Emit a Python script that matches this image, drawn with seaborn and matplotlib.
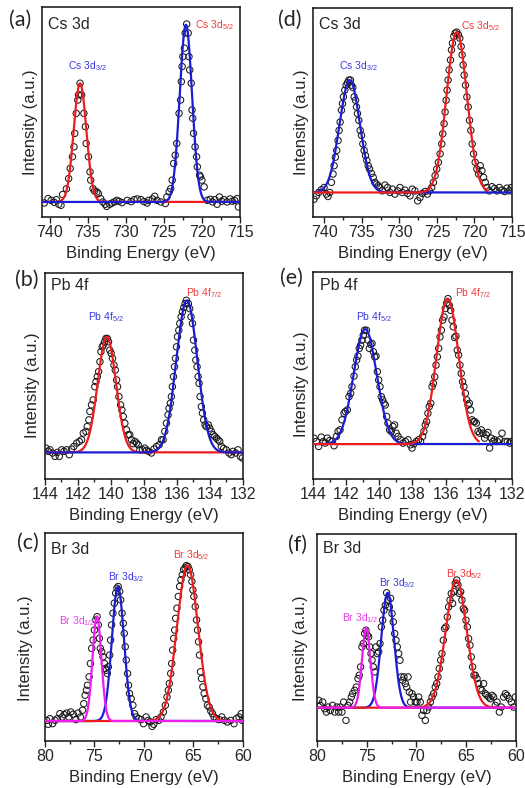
import numpy as np
import pandas as pd
import matplotlib
matplotlib.use("Agg")
import matplotlib.pyplot as plt
import seaborn as sns
from matplotlib.ticker import AutoMinorLocator

# ---------------------------------------------------------------- data
# measured points: (binding energy eV, intensity a.u., baseline = 0, largest peak = 100)
a_scan = [(740.7, -0.6), (740.2, 1.9), (739.8, 0.9), (739.4, -0.2), (739.1, 1.3), (738.8, -1.3),
          (738.5, -1.9), (738.3, 4.2), (737.8, 7.4), (737.5, 13.2), (737.3, 18.9), (737.0, 25.5),
          (736.8, 31.1), (736.7, 38.7), (736.5, 50), (736.3, 57.5), (736.2, 60.4), (736.0, 67),
          (735.8, 60.4), (735.5, 50), (735.3, 42.5), (735.2, 33), (734.9, 25.5), (734.7, 17),
          (734.6, 12.3), (734.3, 7.5), (734.1, 6.2), (733.8, 5.7), (733.6, 4.7), (733.3, 1.9),
          (733.0, 0), (732.7, -1.3), (732.5, -2.5), (732.1, -1.3), (731.8, -0.6), (731.5, 0),
          (731.2, 0.9), (730.9, 0.4), (730.5, -0.4), (729.8, 0.9), (729.3, 0.2), (728.9, 1.3),
          (728.5, 1.7), (728.0, 1.3), (727.6, 0.2), (727.2, -0.6), (727.0, 0.9), (726.5, 1.7),
          (726.2, 3.2), (725.9, 0.9), (725.4, 0), (724.8, -0.9), (724.6, 2.8), (724.3, 5.7),
          (724.1, 7.5), (723.9, 12.3), (723.7, 21.7), (723.5, 26.4), (723.3, 33), (723.0, 50),
          (722.8, 57.5), (722.7, 67.9), (722.6, 76.4), (722.5, 82), (722.3, 86.8), (722.2, 95.3),
          (722.0, 100.4), (721.8, 95.3), (721.7, 82), (721.6, 74.5), (721.4, 67), (721.3, 51.9),
          (721.2, 47.2), (721.1, 38.7), (720.9, 31.1), (720.7, 25.5), (720.6, 19.8), (720.3, 15.1),
          (720.2, 14.2), (720.0, 12.3), (719.7, 8.5), (719.3, 0.9), (718.9, 1.5), (718.6, 0),
          (718.3, 1.3), (718.0, -1.3), (717.7, 2.8), (717.4, 0.4), (717.1, 1.3), (716.7, 0),
          (716.3, 1.7), (716.0, 0.4), (715.7, 0.9), (715.4, 1.9), (715.2, -2.8)]
a_peak_names = ["Cs 3d$_{3/2}$", "Cs 3d$_{5/2}$"]
a_peak_center = [736.0, 722.1]
a_peak_height = [67, 100]
a_peak_fwhm = [1.95, 1.9]

d_scan = [(741.37, -4.2), (741.05, -2.1), (740.74, 0), (740.39, 1.7), (740.03, 3.1), (739.72, -1.0),
          (739.50, -2.5), (739.27, 0), (739.05, 6.3), (738.83, 11.5), (738.69, 16.7), (738.52, 22.0),
          (738.34, 26.2), (738.16, 32.4), (738.03, 38.7), (737.89, 43.9), (737.71, 51.3), (737.58, 55.4),
          (737.45, 59.6), (737.27, 63.8), (737.09, 66.9), (736.91, 68.4), (736.73, 70.1), (736.51, 70.1),
          (736.38, 66.9), (736.20, 65.5), (736.02, 59.6), (735.84, 57.5), (735.71, 53.3), (735.58, 49.2),
          (735.40, 45.0), (735.22, 38.7), (735.04, 35.6), (734.86, 30.3), (734.69, 26.2), (734.51, 23.0),
          (734.33, 19.9), (734.15, 16.7), (733.97, 14.6), (733.71, 11.9), (733.48, 9.4), (733.26, 6.3),
          (733.04, 5.2), (732.81, 4.2), (732.59, 3.1), (732.28, 1.0), (731.92, 4.6), (731.57, 3.1),
          (731.26, 0), (730.94, 2.1), (730.59, -1.0), (730.23, 1.0), (729.92, 3.1), (729.61, 0),
          (729.25, 1.5), (728.90, -0.6), (728.58, -2.1), (728.27, 2.1), (727.92, 1.0), (727.56, -5.2),
          (727.25, -3.1), (726.94, -0.6), (726.58, 0.6), (726.27, -1.0), (726.00, 1.0), (725.69, 3.1),
          (725.47, 6.3), (725.24, 10.5), (725.02, 14.6), (724.80, 18.8), (724.57, 24.1), (724.35, 30.3),
          (724.22, 36.6), (724.04, 42.9), (723.91, 50.2), (723.77, 57.5), (723.64, 63.8), (723.51, 70.1),
          (723.37, 76.4), (723.19, 82.6), (723.06, 88.9), (722.93, 93.1), (722.75, 97.3), (722.57, 99.4),
          (722.35, 100), (722.13, 98.3), (721.95, 96.2), (721.77, 91.0), (721.64, 85.8), (721.50, 79.5),
          (721.37, 73.2), (721.19, 66.9), (721.01, 59.6), (720.83, 53.3), (720.66, 45.0), (720.48, 38.7),
          (720.30, 30.3), (720.12, 24.1), (719.90, 18.8), (719.68, 14.6), (719.45, 11.5), (719.23, 16.7),
          (719.01, 13.6), (718.78, 9.4), (718.56, 6.3), (718.34, 3.1), (718.03, 1.0), (717.67, 3.6),
          (717.31, 2.5), (716.99, 1.0), (716.69, 3.1), (716.34, 1.5), (715.98, 0.6), (715.67, 2.7),
          (715.36, 1.0), (715.09, 3.1)]
d_peak_names = ["Cs 3d$_{3/2}$", "Cs 3d$_{5/2}$"]
d_peak_center = [736.6, 722.35]
d_peak_height = [70, 100]
d_peak_fwhm = [3.2, 3.2]

b_scan = [(143.94, 2.8), (143.80, 0.7), (143.70, 1.7), (143.54, -0.4), (143.39, -2.6), (143.25, 0),
          (143.13, -2.6), (142.99, 1.7), (142.85, 0.7), (142.69, 1.7), (142.53, -1.5), (142.39, 2.2),
          (142.25, 3.9), (142.08, 6.1), (141.92, 7.2), (141.78, 8.3), (141.68, 12.7), (141.52, 13.8),
          (141.44, 17.0), (141.34, 21.4), (141.28, 26.9), (141.18, 31.2), (141.08, 34.5), (140.98, 43.2),
          (140.91, 46.5), (140.83, 49.8), (140.75, 53.1), (140.67, 59.6), (140.61, 66.2), (140.53, 69.4),
          (140.47, 70.5), (140.39, 72.7), (140.31, 74.9), (140.23, 74.9), (140.15, 72.7), (140.07, 67.2),
          (139.99, 65.1), (139.91, 61.8), (139.82, 57.4), (139.74, 54.1), (139.66, 47.6), (139.60, 43.2),
          (139.52, 36.7), (139.42, 31.2), (139.34, 27.9), (139.26, 23.6), (139.16, 19.2), (139.06, 14.8),
          (138.96, 11.6), (138.86, 11.6), (138.76, 8.3), (138.66, 5.7), (138.55, 7.2), (138.45, 6.1),
          (138.35, 5.0), (138.25, 1.7), (138.09, 1.7), (137.95, 2.8), (137.85, 1.3), (137.71, 0.7),
          (137.55, -0.4), (137.40, 2.2), (137.24, 3.9), (137.08, 5.0), (136.94, 8.3), (136.84, 8.3),
          (136.74, 13.8), (136.64, 19.2), (136.54, 24.7), (136.48, 29.0), (136.40, 32.3), (136.34, 36.7),
          (136.28, 43.2), (136.21, 49.8), (136.15, 56.3), (136.09, 61.8), (136.03, 69.4), (135.97, 76.0),
          (135.89, 80.3), (135.83, 84.7), (135.75, 89.1), (135.67, 92.4), (135.59, 95.2), (135.51, 97.8),
          (135.43, 100), (135.31, 97.8), (135.23, 94.5), (135.15, 89.1), (135.06, 84.7), (135.00, 73.8),
          (134.92, 67.2), (134.86, 60.7), (134.78, 56.3), (134.72, 49.8), (134.66, 45.4), (134.60, 36.7),
          (134.52, 30.1), (134.46, 25.8), (134.38, 21.4), (134.30, 18.1), (134.22, 17.0), (134.10, 18.1),
          (134.02, 15.9), (133.92, 13.8), (133.81, 11.6), (133.71, 10.5), (133.61, 9.4), (133.51, 8.3),
          (133.41, 7.2), (133.31, 3.9), (133.17, 2.6), (133.01, 1.7), (132.85, -0.4), (132.71, -1.5),
          (132.61, 0.7), (132.44, -0.4), (132.30, 1.7), (132.16, -2.6), (132.04, -3.7)]
b_peak_names = ["Pb 4f$_{5/2}$", "Pb 4f$_{7/2}$"]
b_peak_center = [140.25, 135.4]
b_peak_height = [76, 100]
b_peak_fwhm = [1.3, 1.5]

e_scan = [(143.94, 4.1), (143.80, 1.8), (143.66, -1.6), (143.50, 4.8), (143.38, 1.8), (143.26, 0.7),
          (143.14, 4.1), (142.99, 2.5), (142.85, 1.8), (142.73, -1.1), (142.59, 5.3), (142.49, 8.7),
          (142.37, 9.8), (142.25, 16.7), (142.13, 21.2), (142.05, 22.4), (141.93, 23.5), (141.83, 32.6),
          (141.73, 34.9), (141.65, 39.5), (141.53, 46.8), (141.45, 53.2), (141.37, 57.8), (141.29, 60.5),
          (141.21, 65.8), (141.13, 68.0), (141.05, 71.5), (140.97, 74.9), (140.89, 78.3), (140.78, 78.3),
          (140.68, 71.5), (140.60, 65.8), (140.52, 68.5), (140.44, 69.2), (140.36, 63.5), (140.28, 60.0),
          (140.20, 60.5), (140.12, 49.8), (140.04, 44.1), (139.96, 39.5), (139.88, 32.6), (139.80, 30.4),
          (139.72, 28.1), (139.64, 26.9), (139.56, 19.0), (139.48, 14.4), (139.38, 9.8), (139.28, 8.7),
          (139.18, 12.1), (139.08, 13.2), (138.98, 7.5), (138.87, 5.3), (138.71, 3.0), (138.57, 0.7),
          (138.43, 1.8), (138.27, 3.0), (138.13, -0.5), (138.03, -2.7), (137.91, 0.2), (137.77, 1.8),
          (137.63, 3.0), (137.51, 1.8), (137.39, 5.3), (137.31, 8.7), (137.23, 13.2), (137.15, 15.5),
          (137.07, 21.2), (136.99, 25.8), (136.90, 28.1), (136.82, 39.5), (136.74, 41.8), (136.66, 46.3),
          (136.58, 54.3), (136.50, 60.0), (136.42, 65.8), (136.34, 73.7), (136.26, 78.3), (136.18, 85.2),
          (136.10, 87.4), (136.02, 93.2), (135.94, 97.0), (135.86, 100), (135.78, 95.4), (135.70, 92.0),
          (135.62, 85.2), (135.54, 80.6), (135.46, 73.3), (135.38, 74.2), (135.30, 64.6), (135.22, 61.2),
          (135.14, 54.3), (135.06, 48.6), (134.98, 42.9), (134.90, 39.5), (134.81, 34.9), (134.73, 30.4),
          (134.65, 26.9), (134.57, 28.1), (134.49, 23.5), (134.41, 16.7), (134.33, 15.5), (134.25, 15.5),
          (134.15, 14.4), (134.05, 8.7), (133.95, 7.5), (133.85, 9.8), (133.75, 7.5), (133.65, 4.1),
          (133.55, 6.4), (133.45, 8.0), (133.35, -2.7), (133.25, 4.1), (133.15, 1.8), (133.05, 3.0),
          (132.88, 1.8), (132.74, 3.0), (132.60, 7.5), (132.44, 1.8), (132.28, 1.8), (132.14, 0.7),
          (132.04, 1.8)]
e_peak_names = ["Pb 4f$_{5/2}$", "Pb 4f$_{7/2}$"]
e_peak_center = [140.85, 135.88]
e_peak_height = [79, 100]
e_peak_fwhm = [1.65, 1.57]

c_scan = [(79.83, 0.4), (79.67, -2.1), (79.50, 1.5), (79.23, -1.7), (78.99, 0.4), (78.76, 1.5),
          (78.49, 4.7), (78.26, 2.6), (78.06, 4.1), (77.82, 5.1), (77.59, 2.6), (77.39, 5.8),
          (77.15, 4.3), (76.88, 0.9), (76.65, 5.1), (76.42, 2.6), (76.21, 6.9), (76.08, 11.1),
          (75.95, 16.5), (75.81, 19.7), (75.71, 22.9), (75.54, 28.3), (75.41, 36.8), (75.28, 46.5),
          (75.14, 51.8), (75.01, 58.2), (74.87, 64.7), (74.74, 66.8), (74.61, 61.5), (74.51, 52.9),
          (74.41, 46.5), (74.27, 44.3), (74.14, 41.1), (74.00, 36.8), (73.90, 33.6), (73.80, 32.5),
          (73.70, 30.4), (73.60, 34.7), (73.47, 42.2), (73.37, 51.8), (73.27, 61.5), (73.13, 69.0),
          (73.00, 75.4), (72.86, 81.8), (72.73, 85.0), (72.60, 86.1), (72.46, 82.9), (72.36, 77.5),
          (72.22, 69.0), (72.09, 62.5), (71.99, 56.1), (71.89, 47.5), (71.79, 39.0), (71.66, 30.4),
          (71.56, 22.9), (71.46, 17.6), (71.29, 14.3), (71.12, 10.1), (70.95, 4.7), (70.79, 2.6),
          (70.52, 1.5), (70.29, 0.9), (70.05, -1.7), (69.78, 2.6), (69.58, 0.4), (69.38, -0.6),
          (69.18, -3.4), (69.01, -2.1), (68.78, 0.9), (68.51, 0.4), (68.28, 2.6), (68.04, 5.8),
          (67.84, 10.1), (67.67, 15.4), (67.54, 19.7), (67.44, 24.0), (67.30, 30.4), (67.20, 36.8),
          (67.10, 45.4), (67.00, 52.9), (66.90, 58.2), (66.80, 65.7), (66.67, 72.2), (66.53, 79.7),
          (66.40, 86.1), (66.27, 90.4), (66.13, 93.6), (66.00, 96.8), (65.86, 97.9), (65.73, 99.4),
          (65.56, 98.9), (65.43, 96.8), (65.29, 93.6), (65.16, 89.3), (65.06, 83.9), (64.96, 79.7),
          (64.82, 73.2), (64.69, 64.7), (64.59, 58.2), (64.49, 50.7), (64.39, 42.2), (64.29, 31.5),
          (64.19, 27.2), (64.05, 21.8), (63.92, 17.6), (63.75, 14.3), (63.59, 10.1), (63.42, 9.0),
          (63.25, 6.4), (63.08, 4.7), (62.92, 2.6), (62.68, 1.5), (62.41, 0.9), (62.14, 2.6),
          (61.88, 0.4), (61.58, -0.6), (61.24, 0.4), (60.91, -1.7), (60.67, 1.5), (60.40, 2.6),
          (60.17, 4.7), (60.07, 0.4)]
c_peak_names = ["Br 3d$_{1/2}$", "Br 3d$_{3/2}$", "Br 3d$_{5/2}$"]
c_peak_center = [74.75, 72.63, 65.6]
c_peak_height = [67, 86, 99.5]
c_peak_fwhm = [1.05, 1.45, 2.5]

f_scan = [(79.83, 5.7), (79.67, 1.8), (79.43, 4.4), (79.23, -0.8), (79.06, -3.4), (78.89, 0.5),
          (78.66, -2.1), (78.43, 1.8), (78.22, -3.4), (77.99, 0.5), (77.82, -3.4), (77.66, 0.5),
          (77.49, -3.4), (77.32, 4.4), (77.09, -9.9), (76.88, 1.8), (76.72, 4.4), (76.55, 8.3),
          (76.42, 10.9), (76.21, 13.5), (76.05, 16.1), (75.88, 22.7), (75.75, 25.3), (75.61, 31.8),
          (75.48, 47.4), (75.34, 50.0), (75.21, 57.8), (75.08, 60.4), (74.94, 56.5), (74.81, 55.2),
          (74.71, 47.4), (74.57, 42.2), (74.47, 37.0), (74.34, 31.8), (74.20, 27.9), (74.07, 47.4),
          (73.94, 42.2), (73.80, 43.5), (73.67, 50.0), (73.53, 63.0), (73.40, 68.2), (73.27, 76.0),
          (73.13, 79.9), (73.00, 89.6), (72.86, 83.9), (72.73, 78.6), (72.60, 85.2), (72.46, 73.4),
          (72.33, 66.9), (72.19, 57.8), (72.06, 52.6), (71.93, 47.4), (71.79, 42.2), (71.66, 37.0),
          (71.52, 24.0), (71.39, 21.4), (71.26, 24.0), (71.12, 18.8), (70.99, 16.1), (70.85, 24.0),
          (70.72, 12.2), (70.59, 4.4), (70.45, 10.9), (70.29, 8.3), (70.12, 4.4), (69.95, 4.4),
          (69.78, 8.3), (69.62, 4.4), (69.45, -6.0), (69.28, -2.1), (69.11, -9.9), (68.95, -2.1),
          (68.78, 0.5), (68.61, 4.4), (68.44, 8.3), (68.28, 10.9), (68.11, 16.1), (67.97, 18.8),
          (67.84, 24.0), (67.71, 30.5), (67.57, 37.0), (67.44, 42.2), (67.30, 52.6), (67.17, 61.7),
          (67.04, 63.0), (66.90, 70.8), (66.77, 78.6), (66.63, 83.9), (66.50, 89.1), (66.37, 81.3),
          (66.23, 90.4), (66.10, 96.9), (65.96, 99.5), (65.83, 95.6), (65.70, 89.1), (65.56, 90.4),
          (65.43, 83.9), (65.29, 77.3), (65.16, 76.0), (65.03, 68.2), (64.89, 63.0), (64.76, 53.9),
          (64.62, 48.7), (64.49, 39.6), (64.36, 31.8), (64.22, 25.3), (64.09, 25.3), (63.92, 22.7),
          (63.75, 18.8), (63.59, 14.8), (63.42, 13.5), (63.25, 18.8), (63.08, 10.9), (62.92, 9.6),
          (62.75, 8.3), (62.58, 7.0), (62.41, 9.6), (62.25, 8.3), (62.08, 1.8), (61.91, 4.4),
          (61.67, -3.4), (61.47, 0.5), (61.24, 8.3), (61.07, 10.9), (60.90, 9.6), (60.67, 7.0),
          (60.47, 4.4), (60.24, 0.5), (60.07, 8.3)]
f_peak_names = ["Br 3d$_{1/2}$", "Br 3d$_{3/2}$", "Br 3d$_{5/2}$"]
f_peak_center = [75.05, 72.9, 66.0]
f_peak_height = [62, 89.6, 99.5]
f_peak_fwhm = [1.0, 1.5, 2.5]

cs_ticks = [740, 735, 730, 725, 720, 715]
pb_ticks = [144, 142, 140, 138, 136, 134, 132]
br_ticks = [80, 75, 70, 65, 60]

panel_letters = ["(a)", "(d)", "(b)", "(e)", "(c)", "(f)"]
panel_titles = ["Cs 3d", "Cs 3d", "Pb 4f", "Pb 4f", "Br 3d", "Br 3d"]

# ---------------------------------------------------------------- style
sns.set_style("ticks")
plt.rcParams["font.family"] = ["Liberation Sans", "DejaVu Sans"]
plt.rcParams["mathtext.fontset"] = "custom"
plt.rcParams["mathtext.rm"] = "Liberation Sans"
plt.rcParams["mathtext.default"] = "regular"

RED = "#ee1c1c"
BLUE = "#1c1cd2"
MAG = "#ee1cee"
RED_T = "#f03a3a"
BLUE_T = "#3a3ae0"
MAG_T = "#ee3aee"

panels = [
    dict(scan=a_scan, names=a_peak_names, cen=a_peak_center, hgt=a_peak_height, fw=a_peak_fwhm,
         ticks=cs_ticks, xlim=(741, 715), ylim=(-8.5, 110),
         rect=[0.0800, 0.7246, 0.3771, 0.2665], letter_xy=(0.038, 0.975), title_xy=(0.03, 0.915),
         ylab=(-0.02, 0.45), line_colors=[RED, BLUE], text_colors=[BLUE_T, RED_T],
         spans=[None, None], order=[0, 1], text_pos=[(737.6, 76.4), (720.9, 100)]),
    dict(scan=d_scan, names=d_peak_names, cen=d_peak_center, hgt=d_peak_height, fw=d_peak_fwhm,
         ticks=cs_ticks, xlim=(741.5, 715), ylim=(-15.3, 115),
         rect=[0.5962, 0.7246, 0.3790, 0.2652], letter_xy=(0.552, 0.975), title_xy=(0.028, 0.92),
         ylab=(-0.02, 0.455), line_colors=[BLUE, RED], text_colors=[BLUE_T, RED_T],
         spans=[None, (718.3, 741.5)], order=[0, 1], text_pos=[(738.0, 78.5), (721.8, 104)]),
    dict(scan=b_scan, names=b_peak_names, cen=b_peak_center, hgt=b_peak_height, fw=b_peak_fwhm,
         ticks=pb_ticks, xlim=(144, 132), ylim=(-17.5, 117.9),
         rect=[0.0857, 0.3921, 0.3771, 0.2614], letter_xy=(0.050, 0.645), title_xy=(0.03, 0.94),
         ylab=(-0.025, 0.456), line_colors=[RED, BLUE], text_colors=[BLUE_T, RED_T],
         spans=[None, None], order=[0, 1], text_pos=[(141.42, 89), (135.43, 104.8)]),
    dict(scan=e_scan, names=e_peak_names, cen=e_peak_center, hgt=e_peak_height, fw=e_peak_fwhm,
         ticks=pb_ticks, xlim=(144, 132), ylim=(-24, 118.3),
         rect=[0.5962, 0.3921, 0.3790, 0.2627], letter_xy=(0.556, 0.648), title_xy=(0.035, 0.937),
         ylab=(-0.02, 0.456), line_colors=[BLUE, RED], text_colors=[BLUE_T, RED_T],
         spans=[None, (134.0, 144.0)], order=[0, 1], text_pos=[(141.43, 87.4), (135.46, 103.9)]),
    dict(scan=c_scan, names=c_peak_names, cen=c_peak_center, hgt=c_peak_height, fw=c_peak_fwhm,
         ticks=br_ticks, xlim=(80, 60), ylim=(-12.8, 120.3),
         rect=[0.0857, 0.0596, 0.3771, 0.2640], letter_xy=(0.053, 0.311), title_xy=(0.03, 0.923),
         ylab=(-0.06, 0.447), line_colors=[MAG, BLUE, RED], text_colors=[MAG_T, BLUE_T, RED_T],
         spans=[None, None, None], order=[1, 2, 0],
         text_pos=[(78.56, 64), (73.64, 92), (67.04, 106.4)]),
    dict(scan=f_scan, names=f_peak_names, cen=f_peak_center, hgt=f_peak_height, fw=f_peak_fwhm,
         ticks=br_ticks, xlim=(80, 60), ylim=(-26, 135.4),
         rect=[0.6038, 0.0596, 0.3790, 0.2627], letter_xy=(0.566, 0.308), title_xy=(0.03, 0.928),
         ylab=(-0.045, 0.45), line_colors=[MAG, BLUE, RED], text_colors=[MAG_T, BLUE_T, RED_T],
         spans=[None, None, None], order=[1, 2, 0],
         text_pos=[(77.49, 69.5), (73.74, 97.4), (67.0, 104.2)]),
]


def gaussian(x, center, height, fwhm):
    return height * np.exp(-4.0 * np.log(2.0) * (x - center) ** 2 / fwhm ** 2)


fig = plt.figure(figsize=(5.25, 7.88), dpi=100)

for letter, title, P in zip(panel_letters, panel_titles, panels):
    ax = fig.add_axes(P["rect"])
    df = pd.DataFrame(P["scan"], columns=["energy", "intensity"])
    sns.scatterplot(data=df, x="energy", y="intensity", ax=ax, s=21, marker="o",
                    linewidth=0.75, zorder=2, legend=False)
    pts = ax.collections[-1]
    pts.set_facecolor("none")
    pts.set_edgecolor("#1a1a1a")

    lo_all, hi_all = min(P["xlim"]), max(P["xlim"])
    for i in P["order"]:
        span = P["spans"][i] if P["spans"][i] is not None else (lo_all, hi_all)
        xs = np.linspace(span[0], span[1], 900)
        ys = gaussian(xs, P["cen"][i], P["hgt"][i], P["fw"][i])
        sns.lineplot(x=xs, y=ys, ax=ax, color=P["line_colors"][i], linewidth=1.6,
                     estimator=None, sort=False, zorder=3, legend=False)

    for name, (tx, ty), col in zip(P["names"], P["text_pos"], P["text_colors"]):
        ax.text(tx, ty, name, color=col, fontsize=7.5, ha="left", va="center", zorder=4)

    ax.set_xlim(P["xlim"])
    ax.set_ylim(P["ylim"])
    ax.set_xticks(P["ticks"])
    ax.set_xticklabels([str(t) for t in P["ticks"]])
    ax.xaxis.set_minor_locator(AutoMinorLocator(2))
    ax.set_yticks([])
    ax.tick_params(axis="x", which="major", direction="out", length=4, width=1.0,
                   labelsize=11.5, pad=2, bottom=True, top=False)
    ax.tick_params(axis="x", which="minor", direction="out", length=2.5, width=1.0,
                   bottom=True, top=False)
    ax.set_xlabel("Binding Energy (eV)", fontsize=12, labelpad=4)
    ax.set_ylabel("Intensity (a.u.)", fontsize=12)
    ax.yaxis.set_label_coords(*P["ylab"])
    for sp in ax.spines.values():
        sp.set_visible(True)
        sp.set_linewidth(1.1)
        sp.set_color("#111111")

    ax.text(P["title_xy"][0], P["title_xy"][1], title, transform=ax.transAxes,
            fontsize=11.5, ha="left", va="center")
    fig.text(P["letter_xy"][0], P["letter_xy"][1], letter, fontsize=15.5,
             ha="center", va="center", family=["Lato", "DejaVu Sans"])

fig.savefig("out.png", dpi=100)
